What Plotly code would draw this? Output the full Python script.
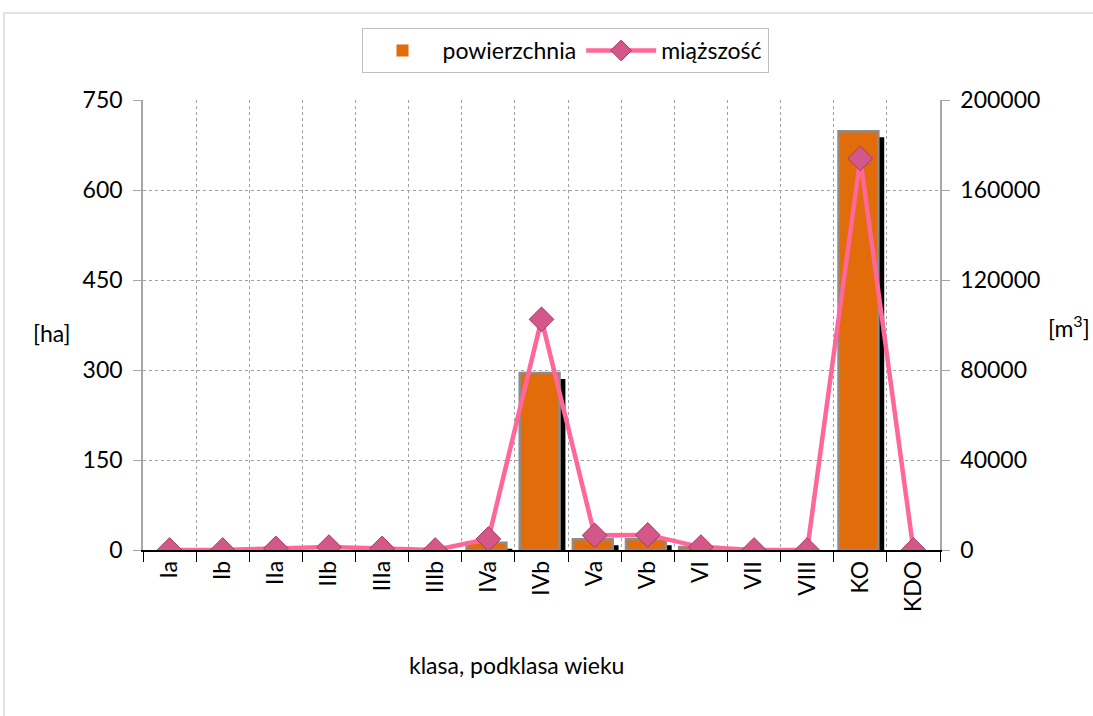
import plotly.graph_objects as go

categories = ["Ia", "Ib", "IIa", "IIb", "IIIa", "IIIb", "IVa", "IVb", "Va", "Vb", "VI", "VII", "VIII", "KO", "KDO"]
powierzchnia = [0, 0, 0, 0, 0, 0, 12, 295, 18, 18, 5, 0, 0, 698, 0]
miazszosc = [0, 0, 700, 1300, 700, 0, 4900, 102500, 6500, 6700, 1300, 0, 0, 174000, 0]

FONT = "Lato, Carlito, 'Liberation Sans', sans-serif"
FS = 23

edge_w = [2.5 if v > 0 else 0 for v in powierzchnia]
shadow_y = [v if v > 0 else None for v in powierzchnia]

fig = go.Figure()

# shadow of bars
fig.add_trace(go.Bar(
    x=categories, y=shadow_y, base=-10, width=0.75, offset=-0.30,
    marker=dict(color="black", line=dict(width=0)),
    showlegend=False, hoverinfo="skip", yaxis="y",
))
fig.add_trace(go.Bar(
    x=categories, y=powierzchnia, width=0.75, offset=-0.41,
    name="powierzchnia",
    marker=dict(color="#E26B0A", line=dict(color="#8C8C8C", width=edge_w)),
    yaxis="y",
))
fig.add_trace(go.Scatter(
    x=categories, y=miazszosc, name="miąższość", mode="lines+markers",
    line=dict(color="#FF6699", width=4.5),
    marker=dict(symbol="diamond", size=19, color="#D4578A",
                line=dict(color="#A23A64", width=1)),
    yaxis="y2",
))

fig.update_layout(
    width=1093, height=716,
    margin=dict(l=143, r=153, t=100, b=166, autoexpand=False),
    paper_bgcolor="white", plot_bgcolor="white",
    font=dict(family=FONT, size=FS, color="black"),
    barmode="overlay",
    showlegend=True,
    legend=dict(orientation="h", x=0.5295, y=1.16, xanchor="center", yanchor="top",
                bordercolor="#BFBFBF", borderwidth=1, font=dict(size=FS),
                itemwidth=70, traceorder="normal"),
    xaxis=dict(
        type="category", categoryorder="array", categoryarray=categories,
        tickson="boundaries", showgrid=True, gridcolor="#A0A0A0", griddash="dot",
        gridwidth=1, ticks="outside", ticklen=10, tickcolor="black",
        showline=True, linecolor="black", linewidth=1.5,
        tickangle=-90, tickfont=dict(size=FS),
        range=[-0.5, 14.5],
    ),
    yaxis=dict(
        range=[0, 750], dtick=150, tick0=0,
        showgrid=True, gridcolor="#A0A0A0", griddash="dot", gridwidth=1,
        ticks="outside", ticklen=8, tickcolor="#A6A6A6",
        showline=True, linecolor="#A6A6A6", linewidth=1.5,
        zeroline=False, tickfont=dict(size=FS), ticklabelstandoff=6,
    ),
    yaxis2=dict(
        range=[0, 200000], dtick=40000, tick0=0, overlaying="y", side="right",
        showgrid=False, ticks="outside", ticklen=8, tickcolor="#A6A6A6",
        showline=True, linecolor="#A6A6A6", linewidth=1.5,
        zeroline=False, tickformat="d", tickfont=dict(size=FS), ticklabelstandoff=6,
    ),
    shapes=[dict(type="rect", xref="paper", yref="paper",
                 x0=-0.1744, x1=1.6, y0=-1.0, y1=1.1933,
                 line=dict(color="#D9D9D9", width=1.5), layer="below")],
    annotations=[
        dict(text="klasa, podklasa wieku", xref="paper", yref="paper",
             x=0.469, y=(550 - 665) / 450, showarrow=False,
             xanchor="center", yanchor="middle", font=dict(size=FS)),
        dict(text="[ha]", xref="paper", yref="paper",
             x=(52 - 143) / 797, y=(550 - 333) / 450, showarrow=False,
             xanchor="center", yanchor="middle", font=dict(size=FS)),
        dict(text="[m<sup>3</sup>]", xref="paper", yref="paper",
             x=(1092 - 143) / 797, y=(550 - 326) / 450, showarrow=False,
             xanchor="right", yanchor="middle", font=dict(size=FS)),
    ],
)

fig.write_html("out.html", config={"displayModeBar": False},
               post_script="document.body.style.margin='0';document.body.style.overflow='hidden';")
